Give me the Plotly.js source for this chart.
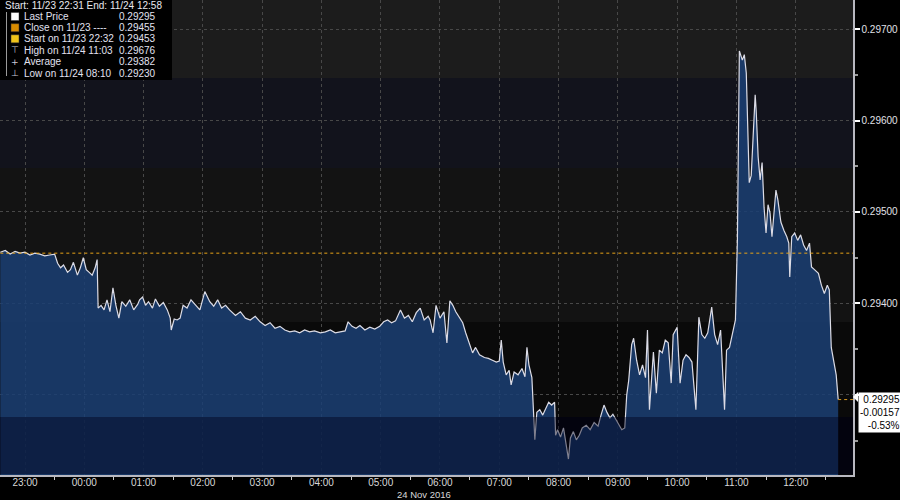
<!DOCTYPE html>
<html><head><meta charset="utf-8">
<script src="https://cdn.plot.ly/plotly-3.0.1.min.js"></script>
<style>html,body{margin:0;padding:0;background:#000;}#chart{width:900px;height:500px;}</style>
</head><body><div id="chart"></div>
<script>
const times = ["22:35","22:40","22:45","22:50","22:55","23:00","23:05","23:10","23:15","23:20","23:25","23:30",
"23:33","23:36","23:39","23:43","23:46","23:49","23:53","23:56","23:59","00:02","00:05","00:08","00:11","00:13",
"00:14","00:17","00:20","00:23","00:26","00:29","00:32","00:35","00:38","00:42","00:46","00:50","00:54",
"00:56","00:59","01:02","01:05","01:09","01:12","01:16","01:20","01:24",
"01:27","01:28","01:31","01:34","01:37",
"01:40","01:44","01:48","01:52","01:57","02:02","02:07","02:11","02:15","02:19","02:23",
"02:27","02:33","02:38","02:43","02:48","02:53","02:58","03:03","03:08","03:13","03:18","03:23",
"03:28","03:33","03:38","03:43","03:48","03:53","03:59","04:04","04:09","04:14","04:19","04:24",
"04:27","04:31","04:35","04:39","04:44","04:49","04:54","04:59",
"05:03","05:07","05:11","05:15","05:20","05:24","05:28","05:32","05:36","05:40","05:44","05:48",
"05:50","05:53","05:56","06:00","06:04","06:07","06:10","06:13","06:16","06:20","06:23","06:26","06:30","06:33","06:36","06:40","06:45","06:49","06:53","06:57",
"07:00","07:02","07:04","07:07","07:10","07:12","07:15","07:19","07:23","07:26","07:28","07:30","07:33","07:35","07:36","07:38","07:41","07:44","07:47","07:50","07:53","07:56","07:57","07:59",
"08:02","08:05","08:10","08:12","08:15","08:18","08:21","08:24","08:28","08:32","08:36","08:40","08:43","08:46","08:49","08:52","08:55","08:58",
"09:01","09:04","09:07","09:09","09:11","09:14","09:16","09:19","09:22","09:25","09:28","09:30","09:32","09:36","09:39","09:42","09:45","09:48","09:51","09:54","09:56","09:58",
"10:00","10:03","10:06","10:09","10:12","10:15","10:19","10:22","10:25","10:28","10:31","10:35","10:38","10:41","10:44","10:48","10:50","10:53","10:56","10:59",
"11:01","11:02","11:03","11:06","11:08","11:10","11:11","11:13","11:15","11:17","11:19","11:20","11:22","11:24","11:26","11:28","11:30","11:32","11:34","11:36","11:38","11:40","11:42","11:45","11:48","11:51","11:53","11:54","11:56","11:59",
"12:02","12:05","12:08","12:11","12:14","12:16","12:19","12:23","12:26","12:29","12:32","12:34","12:36","12:39","12:41","12:43"];
const prices = [0.29456,0.29458,0.29454,0.29457,0.29455,0.29456,0.29453,0.29455,0.29454,0.29452,0.29453,0.29454,
0.29444,0.29439,0.29442,0.29434,0.29437,0.29445,0.29431,0.29439,0.29450,0.29437,0.29434,0.29431,0.29439,0.29448,
0.29395,0.29398,0.29393,0.29404,0.29391,0.29417,0.29398,0.29384,0.29402,0.29397,0.29404,0.29393,0.29399,
0.29404,0.29407,0.29398,0.29402,0.29395,0.29405,0.29397,0.29401,0.29393,
0.29384,0.29371,0.29383,0.29382,0.29384,
0.29398,0.29395,0.29404,0.29399,0.29393,0.29413,0.29402,0.29397,0.29404,0.29395,0.29398,
0.29393,0.29387,0.29391,0.29384,0.29382,0.29386,0.29380,0.29376,0.29379,0.29373,0.29375,0.29371,
0.29369,0.29370,0.29368,0.29371,0.29369,0.29370,0.29368,0.29369,0.29371,0.29368,0.29369,0.29370,
0.29380,0.29375,0.29373,0.29376,0.29371,0.29374,0.29372,0.29375,
0.29380,0.29382,0.29379,0.29381,0.29393,0.29384,0.29387,0.29380,0.29390,0.29395,0.29382,0.29386,
0.29382,0.29368,0.29398,0.29384,0.29391,0.29357,0.29403,0.29398,0.29391,0.29384,0.29379,0.29368,0.29355,0.29346,0.29352,0.29344,0.29341,0.29340,0.29338,0.29336,
0.29337,0.29360,0.29336,0.29322,0.29327,0.29311,0.29325,0.29322,0.29329,0.29320,0.29352,0.29333,0.29319,0.29273,0.29251,0.29281,0.29284,0.29278,0.29286,0.29292,0.29289,0.29292,0.29256,0.29262,
0.29254,0.29264,0.29230,0.29253,0.29260,0.29251,0.29256,0.29264,0.29267,0.29262,0.29270,0.29266,0.29278,0.29289,0.29281,0.29275,0.29279,0.29273,
0.29267,0.29262,0.29264,0.29300,0.29316,0.29355,0.29362,0.29338,0.29322,0.29333,0.29319,0.29371,0.29284,0.29347,0.29302,0.29349,0.29346,0.29360,0.29357,0.29313,0.29366,0.29371,
0.29374,0.29313,0.29338,0.29344,0.29341,0.29336,0.29284,0.29385,0.29366,0.29362,0.29368,0.29396,0.29366,0.29355,0.29371,0.29284,0.29349,0.29352,0.29366,0.29382,
0.29469,0.29615,0.29676,0.29666,0.29672,0.29652,0.29615,0.29532,0.29540,0.29590,0.29628,0.29611,0.29560,0.29535,0.29554,0.29505,0.29477,0.29508,0.29499,0.29473,0.29497,0.29524,0.29513,0.29489,0.29480,0.29473,0.29466,0.29429,0.29473,0.29477,
0.29469,0.29475,0.29464,0.29458,0.29466,0.29440,0.29437,0.29433,0.29420,0.29411,0.29420,0.29415,0.29352,0.29331,0.29322,0.29295];

const closePrice = 0.29455;
const headerText = "Start: 11/23 22:31 End: 11/24 12:58";
const legendLabels = ["Last Price","Close on 11/23 ----","Start on 11/23 22:32","High on 11/24 11:03","Average","Low on 11/24 08:10"];
const legendValues = ["0.29295","0.29455","0.29453","0.29676","0.29382","0.29230"];
const lastLabelLines = ["0.29295","-0.00157","-0.53%"];
const yTickVals = [0.293, 0.294, 0.295, 0.296, 0.297];
const yTickText = ["", "0.29400", "0.29500", "0.29600", "0.29700"];
const yMinorVals = [0.2925, 0.2935, 0.2945, 0.2955, 0.2965];
const dateLabel = "24 Nov 2016";
const xRange = ["2016-11-23 22:34:42","2016-11-24 12:58"];
const yRange = [0.2921256, 0.2973169];

const toDate = t => (+t.slice(0,2) >= 22 ? "2016-11-23 " : "2016-11-24 ") + t;
const xs = times.map(toDate);

// pixel helpers for the plot area (853 x 475)
const PW = 853, PH = 475;
const px = v => v / PW;
const py = v => 1 - v / PH;

const FONT = "Liberation Sans, Arial, sans-serif";

const traces = [
  {x: xs, y: prices, type: "scatter", mode: "lines",
   line: {color: "#dcdce6", width: 1.2}, fill: "tozeroy", fillcolor: "rgba(27,63,115,0.86)", hoverinfo: "skip"},
  {x: [xs[0], xRange[1]], y: [closePrice, closePrice], type: "scatter", mode: "lines",
   line: {color: "#e8a317", width: 1, dash: "dot"}, hoverinfo: "skip"}
];

const bands = [[0,78,"#1c1c1c"],[78,168,"#12131c"],[168,322,"#131313"],[322,417,"#0a0a0a"],[417,475,"#060608"]];
const shapes = bands.map(b => ({type:"rect", xref:"paper", yref:"paper", x0:0, x1:1, y0:py(b[1]), y1:py(b[0]),
  fillcolor:b[2], line:{width:0}, layer:"below"}));
shapes.push({type:"rect", xref:"paper", yref:"paper", x0:0, x1:1, y0:py(474), y1:py(417),
  fillcolor:"rgba(0,0,25,0.42)", line:{width:0}, layer:"above"});
// last price marker line
shapes.push({type:"line", xref:"x", yref:"y", x0:xs[xs.length-1], x1:xRange[1],
  y0:prices[prices.length-1], y1:prices[prices.length-1], line:{color:"#d89a20", width:1, dash:"dot"}, layer:"above"});
// legend background
shapes.push({type:"rect", xref:"paper", yref:"paper", x0:0, x1:px(172), y0:py(80), y1:1,
  fillcolor:"#000", line:{width:0}, layer:"above"});
// legend bracket
shapes.push({type:"line", xref:"paper", yref:"paper", x0:px(6.5), x1:px(6.5), y0:py(76), y1:py(12),
  line:{color:"#9a9a9a", width:1}, layer:"above"});
const rowY = [16.5, 27.7, 38.8, 50.2, 61.7, 73.2];
const swatch = ["#ffffff", "#d98c00", "#f0c419"];
swatch.forEach((c,i) => {
  shapes.push({type:"rect", xref:"paper", yref:"paper", x0:px(11), x1:px(19), y0:py(rowY[i]+4), y1:py(rowY[i]-4),
    fillcolor:c, line:{color:"#333", width:0.5}, layer:"above"});
});
// price box pointer
shapes.push({type:"path", xref:"paper", yref:"paper",
  path:`M ${px(853)} ${py(397)} L ${px(858)} ${py(392)} L ${px(858)} ${py(402)} Z`,
  fillcolor:"#fff", line:{width:0}, layer:"above"});

const annotations = [];
annotations.push({xref:"paper", yref:"paper", x:px(3), y:py(5.5), xanchor:"left", yanchor:"middle",
  text:headerText, showarrow:false, font:{family:FONT, size:10, color:"#e8e8ee"}});
legendLabels.forEach((t,i) => {
  annotations.push({xref:"paper", yref:"paper", x:px(22), y:py(rowY[i]), xanchor:"left", yanchor:"middle",
    text:t, showarrow:false, font:{family:FONT, size:10, color:"#e2e2f0"}});
  annotations.push({xref:"paper", yref:"paper", x:px(117), y:py(rowY[i]), xanchor:"left", yanchor:"middle",
    text:legendValues[i], showarrow:false, font:{family:FONT, size:10, color:"#e2e2f0"}});
});
const glyphs = ["⊤", "+", "⊥"];
glyphs.forEach((g,i) => {
  annotations.push({xref:"paper", yref:"paper", x:px(15), y:py(rowY[i+3]), xanchor:"center", yanchor:"middle",
    text:g, showarrow:false, font:{family:"DejaVu Sans", size:9, color:"#c8c8d8"}});
});
annotations.push({xref:"paper", yref:"paper", x:px(452), y:py(494), xanchor:"right", yanchor:"middle",
  text:dateLabel, showarrow:false, borderpad:0, font:{family:FONT, size:9.5, color:"#d8d8d8"}});
annotations.push({xref:"paper", yref:"y", x:1, y:prices[prices.length-1], xanchor:"left", yanchor:"top",
  xshift:5, yshift:8, text:lastLabelLines.join("<br>"), align:"right", showarrow:false, bgcolor:"#ffffff",
  borderpad:1, font:{family:FONT, size:10, color:"#000"}});

const layout = {
  width: 900, height: 500,
  margin: {l:0, r:47, t:0, b:25, pad:0},
  paper_bgcolor: "#000", plot_bgcolor: "#0a0a0a",
  showlegend: false,
  xaxis: {type:"date", range:xRange, tickformat:"%H:%M", dtick:3600000, tick0:"2016-11-23 23:00",
    showgrid:true, gridcolor:"#484848", griddash:"dot", gridwidth:1, zeroline:false,
    showline:true, linecolor:"#b8b8c0", linewidth:2, ticks:"", ticklen:3, ticklabelstandoff:-3,
    minor:{dtick:1800000, tick0:"2016-11-23 22:30", ticks:"outside", ticklen:3, tickcolor:"#cccccc", showgrid:false},
    tickfont:{family:FONT, size:10, color:"#d8d8d8"}, fixedrange:true},
  yaxis: {side:"right", range:yRange, tickmode:"array", tickvals:yTickVals, ticktext:yTickText,
    showgrid:true, gridcolor:"#484848", griddash:"dot", gridwidth:1, zeroline:false,
    showline:true, linecolor:"#b8b8c0", linewidth:1.5, ticks:"outside", ticklen:5, tickwidth:2, tickcolor:"#ffffff",
    minor:{tickmode:"array", tickvals:yMinorVals, ticks:"outside", ticklen:3, tickcolor:"#999999", showgrid:false},
    tickfont:{family:FONT, size:10, color:"#e0e0e8"}, fixedrange:true},
  shapes: shapes,
  annotations: annotations
};

Plotly.newPlot("chart", traces, layout, {staticPlot:true, displayModeBar:false});
</script></body></html>
